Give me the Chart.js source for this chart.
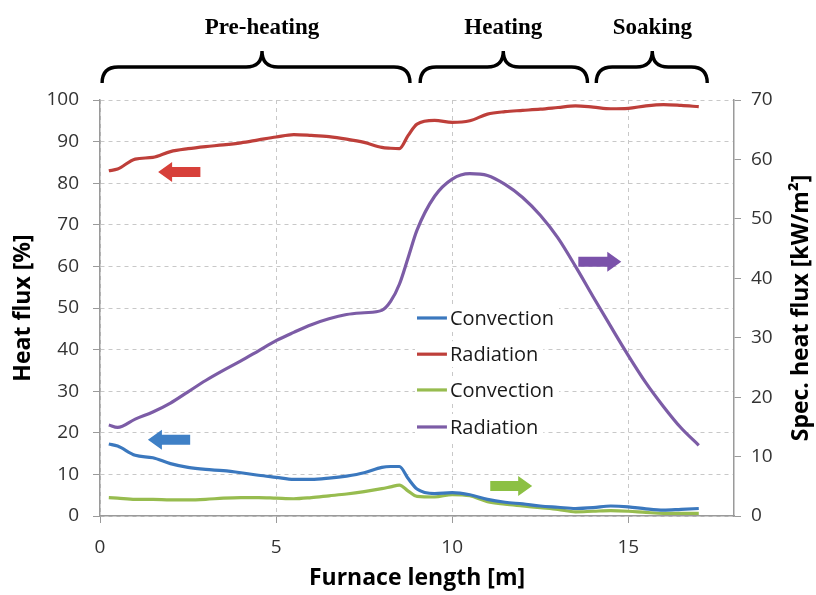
<!DOCTYPE html>
<html>
<head>
<meta charset="utf-8">
<script src="https://cdn.jsdelivr.net/npm/chart.js@4.4.1/dist/chart.umd.min.js"></script>
<style>
html, body { margin: 0; padding: 0; background: #fff; }
</style>
</head>
<body>
<canvas id="FURNACE" width="816" height="595"></canvas>
<script>
// furnace length [m]
var lengths = [0.25, 0.5, 1.0, 1.5, 2.0, 2.5, 3.0, 3.5, 4.0, 4.5, 5.0, 5.5, 6.0, 6.5, 7.0, 7.5, 8.0, 8.25, 8.5, 8.75,
               9.0, 9.5, 10.0, 10.5, 11.0, 11.5, 12.0, 12.5, 13.0, 13.5, 14.0, 14.5, 15.0, 15.5, 16.0, 16.5, 17.0];

// heat flux share [%]  (left axis)
var radiationPct = [83.0, 83.4, 85.8, 86.2, 87.6, 88.3, 88.8, 89.2, 89.7, 90.4, 91.1, 91.7, 91.5, 91.2, 90.6, 89.8, 88.6, 88.4, 88.3, 91.5,
                    94.2, 95.1, 94.6, 95.0, 96.6, 97.2, 97.5, 97.8, 98.2, 98.6, 98.3, 97.9, 98.0, 98.6, 98.9, 98.7, 98.4];
var convectionPct = [17.3, 16.8, 14.6, 14.0, 12.6, 11.7, 11.2, 10.9, 10.4, 9.8, 9.3, 8.8, 8.8, 9.1, 9.6, 10.4, 11.7, 11.9, 11.9, 9.0,
                     6.5, 5.4, 5.6, 5.1, 4.0, 3.3, 2.9, 2.4, 2.1, 1.8, 2.0, 2.4, 2.2, 1.7, 1.4, 1.6, 1.8];

// specific heat flux [kW/m2]  (right axis)
var convectionSpec = [3.1, 3.0, 2.8, 2.8, 2.7, 2.7, 2.8, 3.0, 3.1, 3.1, 3.0, 2.9, 3.1, 3.4, 3.7, 4.1, 4.6, 4.9, 5.2, 4.2,
                      3.3, 3.2, 3.6, 3.4, 2.4, 2.0, 1.7, 1.4, 1.1, 0.7, 0.8, 0.9, 0.8, 0.6, 0.45, 0.45, 0.45];
var radiationSpec = [15.3, 14.9, 16.3, 17.5, 19.0, 20.9, 22.8, 24.5, 26.1, 27.8, 29.5, 30.9, 32.2, 33.2, 33.9, 34.2, 34.6, 36.1, 39.0, 43.5,
                     48.1, 53.8, 56.7, 57.6, 57.3, 55.8, 53.6, 50.6, 46.8, 42.0, 36.9, 31.9, 27.0, 22.4, 18.4, 14.8, 11.9];

var seriesNames = ["Convection", "Radiation", "Convection", "Radiation"];
var seriesColors = ["#3B78BE", "#BE3F3A", "#97BC4F", "#7C5CA6"];

// zones above the plot
var zoneNames = ["Pre-heating", "Heating", "Soaking"];
var zoneStart = [0.06, 9.09, 14.09];
var zoneTip = [4.6, 11.45, 15.68];
var zoneEnd = [8.8, 13.84, 17.24];

// arrows telling which axis a line belongs to: [from, to, level on left axis]
var arrowFrom = [2.85, 2.56, 13.58, 11.08];
var arrowTo = [1.65, 1.36, 14.8, 12.27];
var arrowLevel = [82.7, 18.3, 61.1, 7.2];
var arrowColors = ["#D7403A", "#3F80C6", "#7B52AA", "#8CC044"];

var tickFont = { family: "'Open Sans', sans-serif", size: 19 };
var titleFont = { family: "'Open Sans', sans-serif", size: 23, weight: "bold" };

function pts(vals) {
    return vals.map(function (v, i) { return { x: lengths[i], y: v }; });
}

function lineSet(i, vals, axis) {
    return {
        label: seriesNames[i],
        data: pts(vals),
        yAxisID: axis,
        borderColor: seriesColors[i],
        backgroundColor: seriesColors[i],
        borderWidth: 3.2,
        pointRadius: 0,
        tension: 0.4,
        cubicInterpolationMode: "monotone",
        fill: false
    };
}

function brace(ctx, xa, xm, xb, yTip, yMid, yEnd) {
    var r = 16;
    ctx.beginPath();
    ctx.moveTo(xa, yEnd);
    ctx.quadraticCurveTo(xa, yMid, xa + r, yMid);
    ctx.lineTo(xm - r, yMid);
    ctx.quadraticCurveTo(xm, yMid, xm, yTip);
    ctx.quadraticCurveTo(xm, yMid, xm + r, yMid);
    ctx.lineTo(xb - r, yMid);
    ctx.quadraticCurveTo(xb, yMid, xb, yEnd);
    ctx.stroke();
}

function arrow(ctx, x0, x1, y, color) {
    var dir = x1 > x0 ? 1 : -1;
    var head = 14 * dir;
    ctx.fillStyle = color;
    ctx.beginPath();
    ctx.moveTo(x0, y - 5);
    ctx.lineTo(x1 - head, y - 5);
    ctx.lineTo(x1 - head, y - 10);
    ctx.lineTo(x1, y);
    ctx.lineTo(x1 - head, y + 10);
    ctx.lineTo(x1 - head, y + 5);
    ctx.lineTo(x0, y + 5);
    ctx.closePath();
    ctx.fill();
}

var decorations = {
    id: "decorations",
    afterDatasetsDraw: function (chart) {
        var ctx = chart.ctx, sx = chart.scales.x, sy = chart.scales.y;
        ctx.save();
        // arrows
        for (var i = 0; i < arrowFrom.length; i++) {
            arrow(ctx, sx.getPixelForValue(arrowFrom[i]), sx.getPixelForValue(arrowTo[i]),
                  sy.getPixelForValue(arrowLevel[i]), arrowColors[i]);
        }
        // legend inside the plot
        var legendRows = [47.6, 38.9, 30.3, 21.4];
        var lx0 = sx.getPixelForValue(9.0), lx1 = sx.getPixelForValue(9.85);
        ctx.font = "20px 'Open Sans', sans-serif";
        ctx.textBaseline = "middle";
        ctx.textAlign = "left";
        for (var k = 0; k < seriesNames.length; k++) {
            var ly = sy.getPixelForValue(legendRows[k]);
            ctx.fillStyle = "#fff";
            ctx.fillRect(lx0 - 2, ly - 13, ctx.measureText(seriesNames[k]).width + (lx1 - lx0) + 10, 26);
            ctx.strokeStyle = seriesColors[k];
            ctx.lineWidth = 3.2;
            ctx.beginPath();
            ctx.moveTo(lx0, ly);
            ctx.lineTo(lx1, ly);
            ctx.stroke();
            ctx.fillStyle = "#1a1a1a";
            ctx.fillText(seriesNames[k], lx1 + 3, ly + 1);
        }
        ctx.restore();
    },
    afterDraw: function (chart) {
        var ctx = chart.ctx, sx = chart.scales.x, area = chart.chartArea;
        ctx.save();
        // zone braces
        ctx.strokeStyle = "#000";
        ctx.lineWidth = 3.4;
        ctx.fillStyle = "#000";
        ctx.font = "bold 23px 'Liberation Serif', serif";
        ctx.textAlign = "center";
        ctx.textBaseline = "middle";
        for (var i = 0; i < zoneNames.length; i++) {
            brace(ctx, sx.getPixelForValue(zoneStart[i]), sx.getPixelForValue(zoneTip[i]), sx.getPixelForValue(zoneEnd[i]),
                  area.top - 49, area.top - 33, area.top - 17);
            ctx.fillText(zoneNames[i], sx.getPixelForValue(zoneTip[i]), area.top - 72);
        }
        // right axis title, reading upwards
        ctx.translate(chart.width - 15, (area.top + area.bottom) / 2);
        ctx.rotate(-Math.PI / 2);
        ctx.font = "bold 23px 'Open Sans', sans-serif";
        ctx.fillStyle = "#000";
        ctx.fillText("Spec. heat flux [kW/m\u00B2]", 0, 0);
        ctx.restore();
    }
};

var ctxFurnace = document.getElementById("FURNACE").getContext("2d");

var furnaceChart = new Chart(ctxFurnace, {
    type: "line",
    data: {
        datasets: [
            lineSet(0, convectionPct, "y"),
            lineSet(1, radiationPct, "y"),
            lineSet(2, convectionSpec, "y2"),
            lineSet(3, radiationSpec, "y2")
        ]
    },
    options: {
        responsive: false,
        animation: false,
        layout: { padding: { top: 100, left: 0, right: 0, bottom: 0 } },
        plugins: {
            legend: { display: false },
            tooltip: { enabled: false }
        },
        scales: {
            x: {
                type: "linear",
                min: 0,
                max: 18,
                afterBuildTicks: function (s) { s.ticks = s.ticks.filter(function (t) { return t.value % 5 === 0; }); },
                afterFit: function (s) { s.height = 79; },
                ticks: { stepSize: 5, color: "#333", font: tickFont, padding: 13, maxRotation: 0 },
                grid: { color: "#c8c8c8", tickColor: "#9a9a9a", tickLength: 7 },
                border: { color: "#9a9a9a", width: 1.5, dash: [4, 4] },
                title: { display: true, text: "Furnace length [m]", color: "#000", font: titleFont, padding: { top: 0, bottom: 3 } }
            },
            y: {
                position: "left",
                min: 0,
                max: 100,
                afterFit: function (s) { s.width = 100; },
                ticks: { stepSize: 10, color: "#333", font: tickFont, padding: 14 },
                grid: { color: "#c8c8c8", tickColor: "#9a9a9a", tickLength: 7 },
                border: { color: "#9a9a9a", width: 1.5, dash: [4, 4] },
                title: { display: true, text: "Heat flux [%]", color: "#000", font: titleFont, padding: { top: 10, bottom: 0 } }
            },
            y2: {
                position: "right",
                min: 0,
                max: 70,
                afterFit: function (s) { s.width = 82; },
                ticks: { stepSize: 10, color: "#333", font: tickFont, padding: 10 },
                grid: { drawOnChartArea: false, tickColor: "#9a9a9a", tickLength: 7 },
                border: { color: "#9a9a9a", width: 1.5 }
            }
        }
    },
    plugins: [decorations]
});
</script>
</body>
</html>
